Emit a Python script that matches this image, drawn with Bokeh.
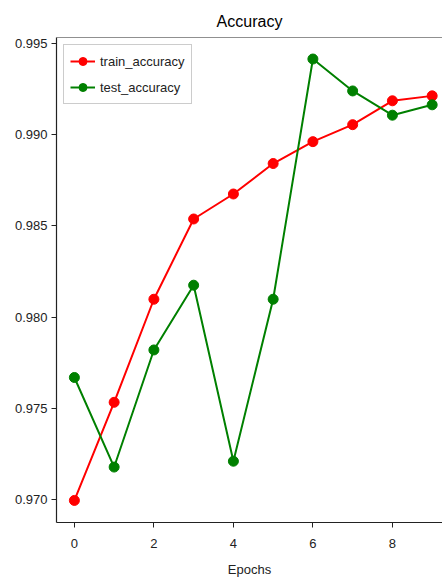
from bokeh.plotting import figure
from bokeh.embed import file_html
from bokeh.resources import INLINE
from bokeh.models import FixedTicker, PrintfTickFormatter, Range1d, Span, Legend, LegendItem

epochs = [0, 1, 2, 3, 4, 5, 6, 7, 8, 9]
train_accuracy = [0.96995, 0.97533, 0.98098, 0.98538, 0.98675, 0.98842, 0.98962, 0.99055, 0.99186, 0.99213]
test_accuracy = [0.97669, 0.97178, 0.97820, 0.98175, 0.97210, 0.98098, 0.99415, 0.99240, 0.99107, 0.99164]
x_ticks = [0, 2, 4, 6, 8]
y_ticks = [0.970, 0.975, 0.980, 0.985, 0.990, 0.995]

FONT = "Liberation Sans"

p = figure(width=442, height=579, output_backend="svg", toolbar_location=None,
           x_range=Range1d(-0.45, 9.26), y_range=Range1d(0.96874, 0.99533),
           min_border_left=56, min_border_right=0, min_border_top=37, min_border_bottom=56)

p.title.text = "Accuracy"
p.title.align = "center"
p.title.vertical_align = "top"
p.title.text_font = FONT
p.title.text_font_size = "16px"
p.title.text_font_style = "normal"
p.title.text_color = "#000000"
p.title.offset = 0
p.title.standoff = 11

p.xgrid.visible = False
p.ygrid.visible = False
p.outline_line_color = None
p.add_layout(Span(location=0.99533, dimension="width", line_color="#222222", line_width=1.2))

for ax in (p.xaxis[0], p.yaxis[0]):
    ax.axis_line_color = "#222222"
    ax.axis_line_width = 1.2
    ax.major_tick_line_color = "#222222"
    ax.major_tick_out = 5
    ax.major_tick_in = 0
    ax.minor_tick_line_color = None
    ax.major_label_text_font = FONT
    ax.major_label_text_font_size = "13px"
    ax.major_label_text_color = "#222222"
    ax.axis_label_text_font = FONT
    ax.axis_label_text_font_size = "13px"
    ax.axis_label_text_font_style = "normal"
    ax.axis_label_text_color = "#222222"

p.xaxis.ticker = FixedTicker(ticks=x_ticks)
p.yaxis.ticker = FixedTicker(ticks=y_ticks)
p.yaxis.formatter = PrintfTickFormatter(format="%.3f")
p.xaxis.major_label_standoff = 11
p.yaxis.major_label_standoff = 4
p.xaxis.axis_label = "Epochs"
p.xaxis.axis_label_standoff = 11

r1 = p.line(epochs, train_accuracy, line_color="red", line_width=2)
s1 = p.scatter(epochs, train_accuracy, size=10, fill_color="red", line_color="red")
r2 = p.line(epochs, test_accuracy, line_color="green", line_width=2)
s2 = p.scatter(epochs, test_accuracy, size=10, fill_color="green", line_color="green")

legend = Legend(items=[LegendItem(label="train_accuracy", renderers=[r1, s1]),
                       LegendItem(label="test_accuracy", renderers=[r2, s2])],
                location="top_left")
legend.label_text_font = FONT
legend.label_text_font_size = "13px"
legend.label_text_color = "#222222"
legend.border_line_color = "#cccccc"
legend.border_line_alpha = 1
legend.background_fill_alpha = 0.8
legend.margin = 7
legend.padding = 6
legend.spacing = 6
legend.label_height = 20
legend.glyph_height = 20
legend.glyph_width = 25
p.add_layout(legend)

open("out.html", "w").write(file_html(p, INLINE))
